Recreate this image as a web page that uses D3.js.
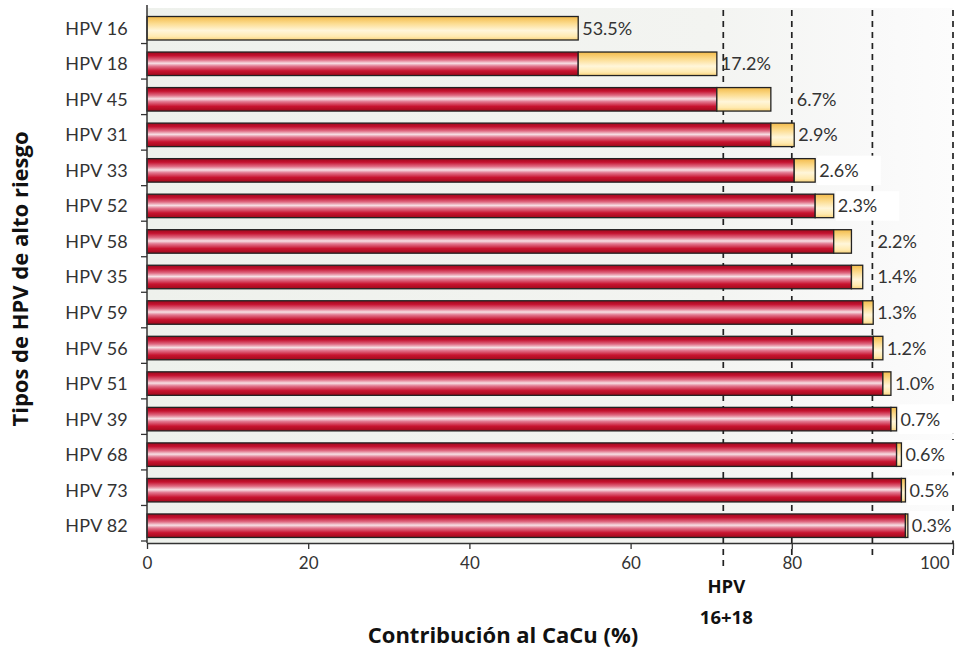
<!DOCTYPE html>
<html>
<head>
<meta charset="utf-8">
<script src="https://cdn.jsdelivr.net/npm/d3@7"></script>
<style>
  html, body { margin: 0; padding: 0; background: #ffffff; }
  svg { display: block; font-family: Lato, "Open Sans", sans-serif; }
</style>
</head>
<body>
<svg id="chart" width="966" height="652"></svg>
<script>
// HPV types ordered by contribution to cervical cancer (CaCu)
const hpvTypes = ["HPV 16", "HPV 18", "HPV 45", "HPV 31", "HPV 33", "HPV 52", "HPV 58",
                  "HPV 35", "HPV 59", "HPV 56", "HPV 51", "HPV 39", "HPV 68", "HPV 73", "HPV 82"];
// Individual contribution of each type (%)
const contribution = [53.5, 17.2, 6.7, 2.9, 2.6, 2.3, 2.2, 1.4, 1.3, 1.2, 1.0, 0.7, 0.6, 0.5, 0.3];
// Axis ticks and dashed reference lines
const xTicks = [0, 20, 40, 60, 80, 100];
const refLines = [71.5, 80, 90, 100];
const refLabel = ["HPV", "16+18"];

(function () {
  // Cumulative base (red) + own share (yellow)
  let running = 0;
  const rows = hpvTypes.map((t, i) => {
    const base = running;
    running += contribution[i];
    return { type: t, base: base, value: contribution[i], end: running };
  });

  const svg = d3.select("#chart");
  const plotT = 8, plotB = 541, axisY = 543;

  const x = d3.scaleLinear().domain([0, 100]).range([147, 953]);
  const y = d3.scaleBand().domain(hpvTypes).range([plotT, plotB]).paddingInner(0).paddingOuter(0);
  const barOff = 8.5, barH = 23.5;
  const x0 = x(0);

  // gradients
  const defs = svg.append("defs");
  const redG = defs.append("linearGradient").attr("id", "redGrad").attr("x1", 0).attr("y1", 0).attr("x2", 0).attr("y2", 1);
  [[0, "#9c0a1c"], [0.15, "#c4112f"], [0.33, "#df6a82"], [0.48, "#f7dfe4"], [0.6, "#e27890"], [0.8, "#c8132f"], [1, "#9e0a1b"]]
    .forEach(s => redG.append("stop").attr("offset", s[0]).attr("stop-color", s[1]));
  const yelG = defs.append("linearGradient").attr("id", "yelGrad").attr("x1", 0).attr("y1", 0).attr("x2", 0).attr("y2", 1);
  [[0, "#f3bb4a"], [0.3, "#fcdc90"], [0.6, "#fff6da"], [0.85, "#ffeab0"], [1, "#f8d27a"]]
    .forEach(s => yelG.append("stop").attr("offset", s[0]).attr("stop-color", s[1]));
  const bgG = defs.append("linearGradient").attr("id", "bgGrad").attr("x1", 0).attr("y1", 0).attr("x2", 1).attr("y2", 0);
  [[0, "#eef1ec"], [0.7, "#f3f4f1"], [0.9, "#f9f9f9"], [1, "#fcfcfc"]]
    .forEach(s => bgG.append("stop").attr("offset", s[0]).attr("stop-color", s[1]));

  // plot background
  svg.append("rect").attr("x", x0).attr("y", plotT).attr("width", x(100) - x0).attr("height", axisY - plotT)
    .attr("fill", "url(#bgGrad)");

  // dashed reference lines (behind bars)
  svg.append("g").selectAll("line").data(refLines).join("line")
    .attr("x1", d => x(d)).attr("x2", d => x(d))
    .attr("y1", plotT + 2)
    .attr("y2", (d, i) => i === 0 ? 568 : 557)
    .attr("stroke", "#222").attr("stroke-width", 1.7).attr("stroke-dasharray", "6,5");

  // bars
  const bars = svg.append("g");
  bars.selectAll("rect.base").data(rows.filter(r => r.base > 0)).join("rect")
    .attr("class", "base")
    .attr("x", x0)
    .attr("y", d => y(d.type) + barOff)
    .attr("width", d => x(d.base) - x0)
    .attr("height", barH)
    .attr("fill", "url(#redGrad)").attr("stroke", "#222").attr("stroke-width", 1.3);
  bars.selectAll("rect.own").data(rows).join("rect")
    .attr("class", "own")
    .attr("x", d => x(d.base))
    .attr("y", d => y(d.type) + barOff)
    .attr("width", d => x(d.end) - x(d.base))
    .attr("height", barH)
    .attr("fill", "url(#yelGrad)").attr("stroke", "#222").attr("stroke-width", 1.3);

  // value labels: after the bar; step past a dashed line that sits just ahead,
  // otherwise clear the line behind the label with a white box
  const labels = svg.append("g");
  rows.forEach(r => {
    let lx = x(r.end) + 4;
    refLines.forEach(v => {
      const d = x(v) - lx;
      if (d > 5 && d < 25) lx = x(v) + 5;
    });
    const cy = y(r.type) + barOff + barH / 2;
    const g = labels.append("g");
    const box = g.append("rect");
    const t = g.append("text")
      .attr("x", lx).attr("y", cy)
      .attr("dy", "0.36em")
      .attr("font-size", 18).attr("fill", "#333")
      .text(r.value.toFixed(1) + "%");
    const w = t.node().getComputedTextLength();
    const crossed = refLines.some(v => x(v) > lx + 4 && x(v) < lx + w + 14);
    if (crossed) {
      box.attr("x", lx - 2).attr("y", cy - barH / 2 - 3)
        .attr("width", w + 24).attr("height", barH + 6)
        .attr("fill", "#ffffff");
    } else {
      box.remove();
    }
  });

  // y axis: line, boundary ticks, type labels
  const yAxis = svg.append("g");
  yAxis.append("line").attr("x1", x0).attr("x2", x0).attr("y1", plotT - 3).attr("y2", axisY)
    .attr("stroke", "#333").attr("stroke-width", 1.5);
  yAxis.selectAll("line.tk").data(hpvTypes).join("line")
    .attr("class", "tk")
    .attr("x1", x0 - 6).attr("x2", x0)
    .attr("y1", d => y(d) + y.bandwidth()).attr("y2", d => y(d) + y.bandwidth())
    .attr("stroke", "#333").attr("stroke-width", 1.3);
  yAxis.selectAll("text").data(hpvTypes).join("text")
    .attr("x", x0 - 19)
    .attr("y", d => y(d) + barOff + barH / 2)
    .attr("dy", "0.36em").attr("text-anchor", "end")
    .attr("font-size", 18).attr("fill", "#333").attr("letter-spacing", "0.2px")
    .text(d => d);

  // x axis (the last label sits to the left of its tick, inside the frame)
  const xAxis = svg.append("g").attr("transform", `translate(0,${axisY})`)
    .call(d3.axisBottom(x).tickValues(xTicks).tickSize(6).tickSizeOuter(0).tickPadding(8));
  xAxis.select(".domain").attr("stroke", "#333").attr("stroke-width", 1.5);
  xAxis.selectAll(".tick line").attr("stroke", "#333").attr("stroke-width", 1.3);
  xAxis.selectAll(".tick text").attr("font-size", 17).attr("fill", "#333")
    .attr("font-family", "Lato, 'Open Sans', sans-serif")
    .filter(d => d === xTicks[xTicks.length - 1])
    .attr("text-anchor", "end").attr("dx", -4);

  // HPV 16+18 marker label
  svg.append("g").selectAll("text").data(refLabel).join("text")
    .attr("x", x(refLines[0]) + 3)
    .attr("y", (d, i) => 593 + i * 31)
    .attr("text-anchor", "middle")
    .attr("font-family", "'Open Sans', Lato, sans-serif")
    .attr("font-size", 18.5).attr("font-weight", "bold").attr("fill", "#111")
    .text(d => d);

  // axis titles
  svg.append("text")
    .attr("x", 503).attr("y", 643)
    .attr("text-anchor", "middle")
    .attr("font-family", "'Open Sans', Lato, sans-serif")
    .attr("font-size", 22).attr("font-weight", "bold").attr("fill", "#111")
    .text("Contribución al CaCu (%)");
  svg.append("text")
    .attr("transform", "translate(28,279) rotate(-90)")
    .attr("text-anchor", "middle")
    .attr("font-family", "'Open Sans', Lato, sans-serif")
    .attr("font-size", 22).attr("font-weight", "bold").attr("fill", "#111")
    .text("Tipos de HPV de alto riesgo");
})();
</script>
</body>
</html>
